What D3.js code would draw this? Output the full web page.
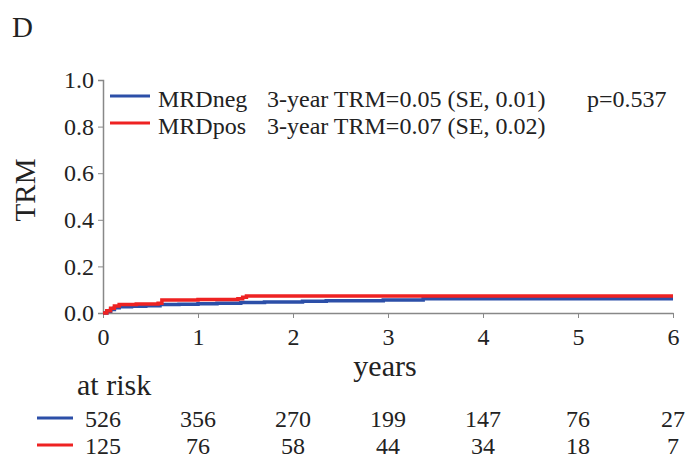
<!DOCTYPE html>
<html>
<head>
<meta charset="utf-8">
<script src="https://cdn.jsdelivr.net/npm/d3@7"></script>
<style>
  body { margin: 0; background: #fff; }
  text { font-family: "Liberation Serif", "Times New Roman", serif; fill: #222; }
</style>
</head>
<body>
<script>
// step data (years, cumulative incidence)
var negTimes = [0, 0.04, 0.08, 0.12, 0.17, 0.3, 0.45, 0.6, 0.8, 1.0, 1.2, 1.45, 1.7, 2.1, 2.35, 2.95, 3.37, 6];
var negValues = [0, 0.008, 0.015, 0.022, 0.027, 0.029, 0.031, 0.036, 0.038, 0.040, 0.042, 0.045, 0.047, 0.050, 0.053, 0.056, 0.061, 0.061];
var posTimes = [0, 0.04, 0.08, 0.12, 0.17, 0.35, 0.58, 0.62, 1.0, 1.42, 1.47, 1.51, 6];
var posValues = [0, 0.010, 0.020, 0.030, 0.037, 0.039, 0.042, 0.056, 0.058, 0.061, 0.068, 0.073, 0.073];

var xTicks = [0, 1, 2, 3, 4, 5, 6];
var yTicks = [0, 0.2, 0.4, 0.6, 0.8, 1.0];
var riskNeg = [526, 356, 270, 199, 147, 76, 27];
var riskPos = [125, 76, 58, 44, 34, 18, 7];

var legendNames = ["MRDneg", "MRDpos"];
var legendStats = ["3-year TRM=0.05 (SE, 0.01)", "3-year TRM=0.07 (SE, 0.02)"];
var pText = "p=0.537";
var colors = ["#2c4fa8", "#ee2222"];

var w = 696, h = 463;
var svg = d3.select("body").append("svg")
  .attr("width", w)
  .attr("height", h);

var x = d3.scaleLinear().domain([0, 6]).range([103, 673]);
var y = d3.scaleLinear().domain([0, 1]).range([313, 80]);

// panel letter
svg.append("text").attr("x", 12).attr("y", 37)
  .attr("font-size", "29px").text("D");

// y axis
var yAxis = svg.append("g")
  .attr("transform", "translate(" + x(0) + ",0)")
  .call(d3.axisLeft(y).tickValues(yTicks).tickSize(5).tickPadding(4)
    .tickFormat(d3.format(".1f")));
yAxis.select(".domain").attr("stroke", "#888").attr("stroke-width", 1.5);
yAxis.selectAll(".tick line").attr("stroke", "#888");
yAxis.selectAll(".tick text").attr("font-size", "24px")
  .attr("font-family", "Liberation Serif").attr("fill", "#222");

// x axis
var xAxis = svg.append("g")
  .attr("transform", "translate(0," + y(0) + ")")
  .call(d3.axisBottom(x).tickValues(xTicks).tickSize(5).tickPadding(10)
    .tickSizeOuter(0).tickFormat(d3.format("d")));
xAxis.select(".domain").attr("stroke", "#888").attr("stroke-width", 1.5);
xAxis.selectAll(".tick line").attr("stroke", "#888");
xAxis.selectAll(".tick text").attr("font-size", "24px")
  .attr("font-family", "Liberation Serif").attr("fill", "#222");

// axis titles
svg.append("text")
  .attr("transform", "translate(35,190) rotate(-90)")
  .attr("text-anchor", "middle")
  .attr("font-size", "29px").text("TRM");
svg.append("text").attr("x", 385).attr("y", 376)
  .attr("text-anchor", "middle")
  .attr("font-size", "30px").text("years");

// curves
var line = d3.line()
  .x(function(d) { return x(d[0]); })
  .y(function(d) { return y(d[1]); })
  .curve(d3.curveStepAfter);

var series = [d3.zip(negTimes, negValues), d3.zip(posTimes, posValues)];
svg.selectAll("path.curve")
  .data(series)
  .enter()
  .append("path")
  .attr("class", "curve")
  .attr("d", line)
  .attr("fill", "none")
  .attr("stroke", function(d, i) { return colors[i]; })
  .attr("stroke-width", 3.5);

// legend
var legendY = [96, 123];
legendNames.forEach(function(name, i) {
  svg.append("line")
    .attr("x1", 110).attr("x2", 150)
    .attr("y1", legendY[i]).attr("y2", legendY[i])
    .attr("stroke", colors[i]).attr("stroke-width", 3);
  svg.append("text").attr("x", 158).attr("y", legendY[i] + 11)
    .attr("font-size", "24px").text(name);
  svg.append("text").attr("x", 267).attr("y", legendY[i] + 11)
    .attr("font-size", "24px").text(legendStats[i]);
});
svg.append("text").attr("x", 587).attr("y", legendY[0] + 11)
  .attr("font-size", "24px").text(pText);

// at risk table
svg.append("text").attr("x", 77).attr("y", 395)
  .attr("font-size", "30px").text("at risk");

var riskRows = [riskNeg, riskPos];
var rowY = [427, 454];
riskRows.forEach(function(row, i) {
  svg.append("line")
    .attr("x1", 37).attr("x2", 73)
    .attr("y1", rowY[i] - 9).attr("y2", rowY[i] - 9)
    .attr("stroke", colors[i]).attr("stroke-width", 3);
  svg.selectAll("text.risk" + i)
    .data(row)
    .enter()
    .append("text")
    .attr("class", "risk" + i)
    .attr("x", function(d, j) { return x(xTicks[j]); })
    .attr("y", rowY[i])
    .attr("text-anchor", "middle")
    .attr("font-size", "24px")
    .text(function(d) { return d; });
});
</script>
</body>
</html>
